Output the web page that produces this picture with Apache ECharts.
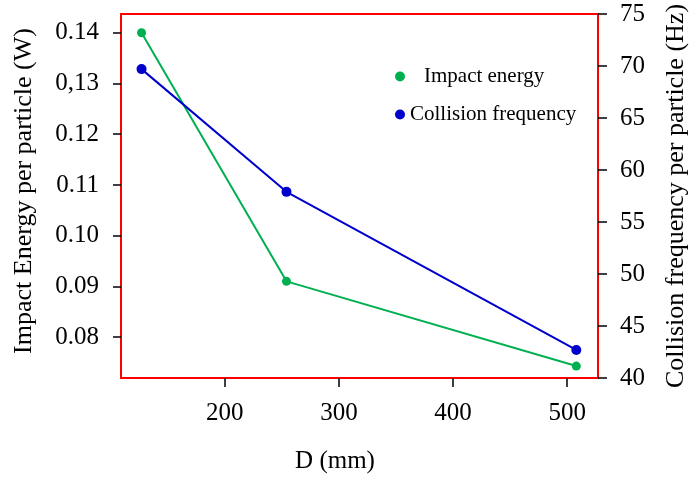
<!DOCTYPE html>
<html><head><meta charset="utf-8">
<script src="https://cdn.jsdelivr.net/npm/echarts@6/dist/echarts.min.js"></script>
<style>html,body{margin:0;padding:0;background:#fff}#c{width:697px;height:479px}</style>
</head><body><div id="c"></div>
<script>
const dValues = [127, 254, 508];
const impactEnergy = [0.140, 0.091, 0.0743];
const collisionFreq = [69.7, 57.9, 42.7];
const xTicks = [200, 300, 400, 500];
const leftTicks = [0.08, 0.09, 0.10, 0.11, 0.12, 0.13, 0.14];
const leftTickLabels = ['0.08', '0.09', '0.10', '0.11', '0.12', '0,13', '0.14'];
const rightTicks = [40, 45, 50, 55, 60, 65, 70, 75];

const FONT = '"Liberation Serif", "DejaVu Serif", serif';
const chart = echarts.init(document.getElementById('c'), null, {renderer: 'canvas'});
const labelFor = v => {
  const i = leftTicks.findIndex(t => Math.abs(t - v) < 1e-6);
  return i >= 0 ? leftTickLabels[i] : '';
};
chart.setOption({
  animation: false,
  backgroundColor: '#fff',
  textStyle: {fontFamily: FONT, color: '#000'},
  grid: {left: 121, right: 87, top: 14, bottom: 97, show: true, borderColor: '#ff0000', borderWidth: 2, backgroundColor: 'transparent'},
  legend: [
    {data: ['Impact energy'], left: 390, top: 61, icon: 'circle', itemWidth: 10, itemHeight: 10,
     textStyle: {fontFamily: FONT, fontSize: 21, color: '#000', padding: [0, 0, 0, 14]}},
    {data: ['Collision frequency'], left: 390, top: 99, icon: 'circle', itemWidth: 10, itemHeight: 10,
     textStyle: {fontFamily: FONT, fontSize: 21, color: '#000'}}
  ],
  xAxis: {
    type: 'value', min: 109, max: 527,
    name: 'D (mm)', nameLocation: 'middle', nameGap: 71,
    nameTextStyle: {fontFamily: FONT, fontSize: 25, color: '#000', padding: [0, 49, 0, 0]},
    axisLine: {show: false},
    axisTick: {show: true, customValues: xTicks, length: 9, lineStyle: {color: '#000', width: 1.5}},
    axisLabel: {customValues: xTicks, fontFamily: FONT, fontSize: 25, color: '#000', margin: 23},
    splitLine: {show: false}
  },
  yAxis: [
    {
      type: 'value', position: 'left', min: 0.07195, max: 0.1437,
      name: 'Impact Energy per particle (W)', nameLocation: 'middle', nameGap: 84, nameRotate: 90,
      nameTextStyle: {fontFamily: FONT, fontSize: 26, color: '#000', padding: [0, 0, 0, 10]},
      axisLine: {show: false},
      axisTick: {show: true, customValues: leftTicks, length: 8, lineStyle: {color: '#000', width: 1.5}},
      axisLabel: {customValues: leftTicks, formatter: labelFor, fontFamily: FONT, fontSize: 25, color: '#000', margin: 22},
      splitLine: {show: false}
    },
    {
      type: 'value', position: 'right', min: 40, max: 75,
      name: 'Collision frequency per particle (Hz)', nameLocation: 'middle', nameGap: 65, nameRotate: 90,
      nameTextStyle: {fontFamily: FONT, fontSize: 26, color: '#000'},
      axisLine: {show: false},
      axisTick: {show: true, customValues: rightTicks, length: 9, lineStyle: {color: '#000', width: 1.5}},
      axisLabel: {customValues: rightTicks, fontFamily: FONT, fontSize: 25, color: '#000', margin: 22},
      splitLine: {show: false}
    }
  ],
  series: [
    {name: 'Impact energy', type: 'line', yAxisIndex: 0, data: dValues.map((d, i) => [d, impactEnergy[i]]),
     symbol: 'circle', symbolSize: 9, itemStyle: {color: '#00b050'}, lineStyle: {color: '#00b050', width: 2}},
    {name: 'Collision frequency', type: 'line', yAxisIndex: 1, data: dValues.map((d, i) => [d, collisionFreq[i]]),
     symbol: 'circle', symbolSize: 10, itemStyle: {color: '#0000cc'}, lineStyle: {color: '#0000cc', width: 2}}
  ]
});
</script></body></html>
